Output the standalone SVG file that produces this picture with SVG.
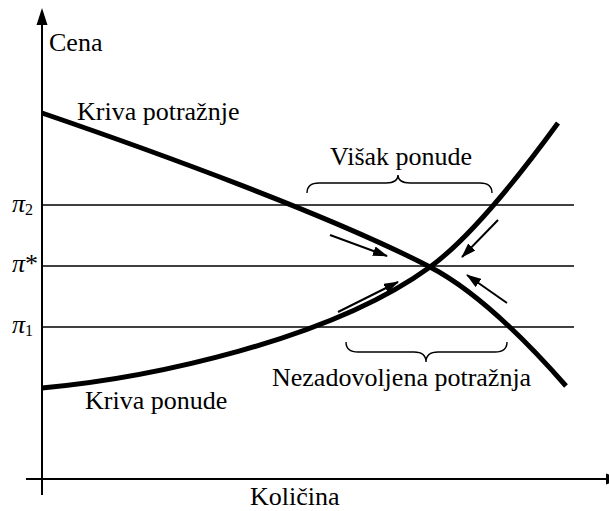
<svg xmlns="http://www.w3.org/2000/svg" width="609" height="511" viewBox="0 0 609 511">
<defs>
<style>
text{font-family:'Liberation Serif','Times New Roman','DejaVu Serif',serif;font-size:26px;fill:#000}
.sub{font-size:16px;font-style:normal}
.pi{font-style:italic}
.axis{stroke:#000;stroke-width:2;fill:none}
.grid{stroke:#000;stroke-width:1.5;fill:none}
.curve{stroke:#000;stroke-width:5;fill:none}
.arr{stroke:#000;stroke-width:2;fill:none}
.brace{stroke:#000;stroke-width:1.4;fill:none}
</style>
<marker id="ah" markerUnits="userSpaceOnUse" markerWidth="15" markerHeight="10" refX="14" refY="5" orient="auto">
<path d="M0,0 L15,5 L0,10 z" fill="#000"/>
</marker>
</defs>
<rect width="609" height="511" fill="#fff"/>
<g id="axes" font-family="'Liberation Serif', 'Times New Roman', serif">
<line class="axis" x1="42" y1="495" x2="42" y2="20"/>
<polygon points="42,8 36.5,25 47.5,25" fill="#000"/>
<line class="axis" x1="26" y1="479" x2="610" y2="479"/>
<polygon points="622,479 606,473.5 606,484.5" fill="#000"/>
<text x="49" y="51">Cena</text>
<text x="250" y="505">Količina</text>
</g>
<g id="price-lines">
<line class="grid" x1="42" y1="205" x2="574" y2="205"/>
<line class="grid" x1="42" y1="266" x2="574" y2="266"/>
<line class="grid" x1="42" y1="327" x2="574" y2="327"/>
<text x="12" y="212"><tspan class="pi">π</tspan><tspan class="sub" dy="3">2</tspan></text>
<text x="12" y="272"><tspan class="pi">π</tspan>*</text>
<text x="12" y="333"><tspan class="pi">π</tspan><tspan class="sub" dy="3">1</tspan></text>
</g>
<g id="demand">
<path class="curve" d="M42,113 C150,150 330,215 430,267 C480,293 530,345 566,386"/>
<text x="77" y="120">Kriva potražnje</text>
</g>
<g id="supply">
<path class="curve" d="M42,388 C150,378 330,340 430,267 C470,238 520,175 558,123"/>
<text x="85" y="409">Kriva ponude</text>
</g>
<g id="surplus">
<path class="brace" d="M307,193 Q307,183 319,183 L386,183 Q398,183 398,175 Q398,183 410,183 L480,183 Q492,183 492,193"/>
<text x="330" y="165">Višak ponude</text>
</g>
<g id="shortage">
<path class="brace" d="M346,342 Q346,352 358,352 L414,352 Q426,352 426,362 Q426,352 438,352 L495,352 Q507,352 507,342"/>
<text x="272" y="386">Nezadovoljena potražnja</text>
</g>
<g id="connectors">
<line class="arr" x1="330" y1="235" x2="387" y2="256" marker-end="url(#ah)"/>
<line class="arr" x1="338" y1="312" x2="398" y2="282" marker-end="url(#ah)"/>
<line class="arr" x1="498" y1="220" x2="462" y2="257" marker-end="url(#ah)"/>
<line class="arr" x1="507" y1="303" x2="467" y2="275" marker-end="url(#ah)"/>
</g>
</svg>
